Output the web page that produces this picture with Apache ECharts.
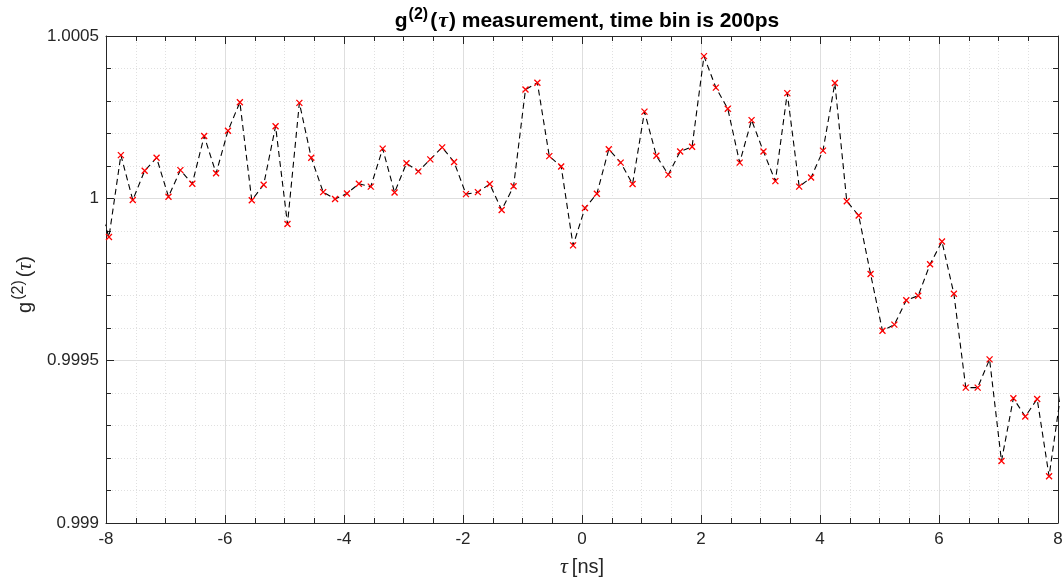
<!DOCTYPE html>
<html>
<head>
<meta charset="utf-8">
<script src="https://cdn.jsdelivr.net/npm/echarts@6/dist/echarts.min.js"></script>
<style>
  html, body { margin: 0; padding: 0; background: #ffffff; overflow: hidden; }
  #chart { width: 1062px; height: 581px; }
</style>
</head>
<body>
<div id="chart"></div>
<script>
// time-bin centres [ns] (first and last lie just outside the visible range)
const tau = [
  -8.15, -7.95, -7.75, -7.55, -7.35, -7.15, -6.95, -6.75, -6.55, -6.35, -6.15,
  -5.95, -5.75, -5.55, -5.35, -5.15, -4.95, -4.75, -4.55, -4.35, -4.15,
  -3.95, -3.75, -3.55, -3.35, -3.15, -2.95, -2.75, -2.55, -2.35, -2.15,
  -1.95, -1.75, -1.55, -1.35, -1.15, -0.95, -0.75, -0.55, -0.35, -0.15,
  0.05, 0.25, 0.45, 0.65, 0.85, 1.05, 1.25, 1.45, 1.65, 1.85,
  2.05, 2.25, 2.45, 2.65, 2.85, 3.05, 3.25, 3.45, 3.65, 3.85,
  4.05, 4.25, 4.45, 4.65, 4.85, 5.05, 5.25, 5.45, 5.65, 5.85,
  6.05, 6.25, 6.45, 6.65, 6.85, 7.05, 7.25, 7.45, 7.65, 7.85, 8.05
];
// g2(tau) values
const g2 = [
  0.99999,
  0.999881, 1.000133, 0.999995, 1.000085, 1.000125, 1.000005, 1.000087, 1.000045, 1.000192, 1.000077,
  1.000208, 1.000296, 0.999994, 1.000042, 1.000222, 0.999921, 1.000294, 1.000125, 1.000019, 0.999998,
  1.000015, 1.000045, 1.000036, 1.000153, 1.000018, 1.000108, 1.000083, 1.000120, 1.000157, 1.000112,
  1.000013, 1.000019, 1.000044, 0.999964, 1.000037, 1.000335, 1.000356, 1.000130, 1.000098, 0.999855,
  0.999970, 1.000014, 1.000151, 1.000110, 1.000044, 1.000267, 1.000131, 1.000073, 1.000144, 1.000159,
  1.000438, 1.000341, 1.000276, 1.000110, 1.000241, 1.000144, 1.000053, 1.000324, 1.000036, 1.000064,
  1.000147, 1.000355, 0.999991, 0.999947, 0.999767, 0.999592, 0.999611, 0.999686, 0.999700, 0.999797,
  0.999867, 0.999706, 0.999417, 0.999417, 0.999504, 0.999191, 0.999384, 0.999328, 0.999382, 0.999144,
  0.999402
];
const xTicks = { min: -8, max: 8, interval: 2 };
const yTicks = { min: 0.999, max: 1.0005, interval: 0.0005 };

const FONT = "'Liberation Sans', Arial, Helvetica, sans-serif";
const SERIF = "'Liberation Serif', 'DejaVu Serif', serif";
const AX = '#262626';
const chart = echarts.init(document.getElementById('chart'), null, { renderer: 'canvas' });

const points = tau.map((t, i) => [t, g2[i]]);

function baseX(pos, main) {
  return {
    type: 'value', position: pos, gridIndex: 0,
    min: xTicks.min, max: xTicks.max, interval: xTicks.interval,
    axisLine: { show: true, onZero: false, lineStyle: { color: AX, width: 1 } },
    axisTick: { show: true, inside: true, length: 8, lineStyle: { color: AX } },
    minorTick: { show: true, splitNumber: 4, length: 5, lineStyle: { color: AX } },
    axisLabel: main ? { show: true, fontSize: 17, color: AX, fontFamily: FONT, margin: 8 } : { show: false },
    splitLine: main ? { show: true, lineStyle: { color: '#dedede', width: 1 } } : { show: false },
    minorSplitLine: main ? { show: true, lineStyle: { color: '#e0e0e0', width: 1, type: [1, 2] } } : { show: false }
  };
}
function baseY(pos, main) {
  return {
    type: 'value', position: pos, gridIndex: 0,
    min: yTicks.min, max: yTicks.max, interval: yTicks.interval,
    axisLine: { show: true, onZero: false, lineStyle: { color: AX, width: 1 } },
    axisTick: { show: true, inside: true, length: 8, lineStyle: { color: AX } },
    minorTick: { show: true, splitNumber: 5, length: 5, lineStyle: { color: AX } },
    axisLabel: main ? {
      show: true, fontSize: 17, color: AX, fontFamily: FONT, margin: 7,
      formatter: v => String(parseFloat(Number(v).toFixed(4)))
    } : { show: false },
    splitLine: main ? { show: true, lineStyle: { color: '#dedede', width: 1 } } : { show: false },
    minorSplitLine: main ? { show: true, lineStyle: { color: '#e0e0e0', width: 1, type: [1, 2] } } : { show: false }
  };
}

const xMain = baseX('bottom', true);
xMain.name = '{tau|τ}{n|[ns]}';
xMain.nameLocation = 'middle';
xMain.nameGap = 33;
xMain.nameTextStyle = {
  color: AX,
  rich: {
    tau: { fontSize: 22, fontStyle: 'italic', fontFamily: SERIF, color: AX, padding: [0, 4, 0, 0] },
    n: { fontSize: 20, fontFamily: FONT, color: AX }
  }
};

const yMain = baseY('left', true);
yMain.name = '{g|g}{sup|(2)}{p|(}{tau|τ}{p|)}';
yMain.nameLocation = 'middle';
yMain.nameRotate = 90;
yMain.nameGap = 55;
yMain.nameTextStyle = {
  color: AX,
  padding: [0, 10, 0, 0],
  rich: {
    g: { fontSize: 20, fontFamily: FONT, color: AX },
    sup: { fontSize: 16, fontFamily: FONT, color: AX, padding: [0, 3, 13, 2] },
    p: { fontSize: 20, fontFamily: FONT, color: AX },
    tau: { fontSize: 22, fontStyle: 'italic', fontFamily: SERIF, color: AX }
  }
};

const option = {
  backgroundColor: '#ffffff',
  animation: false,
  title: {
    text: '{g|g}{sup|(2)}{p|(}{tau|τ}{p|) measurement, time bin is 200ps}',
    left: 582, top: 2, textAlign: 'center',
    textStyle: {
      rich: {
        g: { fontSize: 21, fontWeight: 'bold', fontFamily: FONT, color: '#000' },
        sup: { fontSize: 16, fontWeight: 'bold', fontFamily: FONT, color: '#000', padding: [0, 2, 13, 1] },
        p: { fontSize: 21, fontWeight: 'bold', fontFamily: FONT, color: '#000' },
        tau: { fontSize: 22, fontStyle: 'italic', fontFamily: SERIF, color: '#000', padding: [0, 1, 0, 1] }
      }
    }
  },
  grid: { left: 106, right: 4, top: 36, bottom: 58, containLabel: false, outerBoundsMode: 'none' },
  xAxis: [xMain, baseX('top', false)],
  yAxis: [yMain, baseY('right', false)],
  series: [{
    type: 'line',
    xAxisIndex: 0, yAxisIndex: 0,
    data: points,
    clip: true,
    showAllSymbol: true,
    symbol: 'path://M0 0L10 10M10 0L0 10',
    symbolSize: 6,
    itemStyle: { color: 'rgba(255,0,0,0)', borderColor: '#ff0000', borderWidth: 1.3 },
    lineStyle: { color: '#000000', width: 1.1, type: [6, 4] },
    emphasis: { disabled: true }
  }]
};
chart.setOption(option);
</script>
</body>
</html>
